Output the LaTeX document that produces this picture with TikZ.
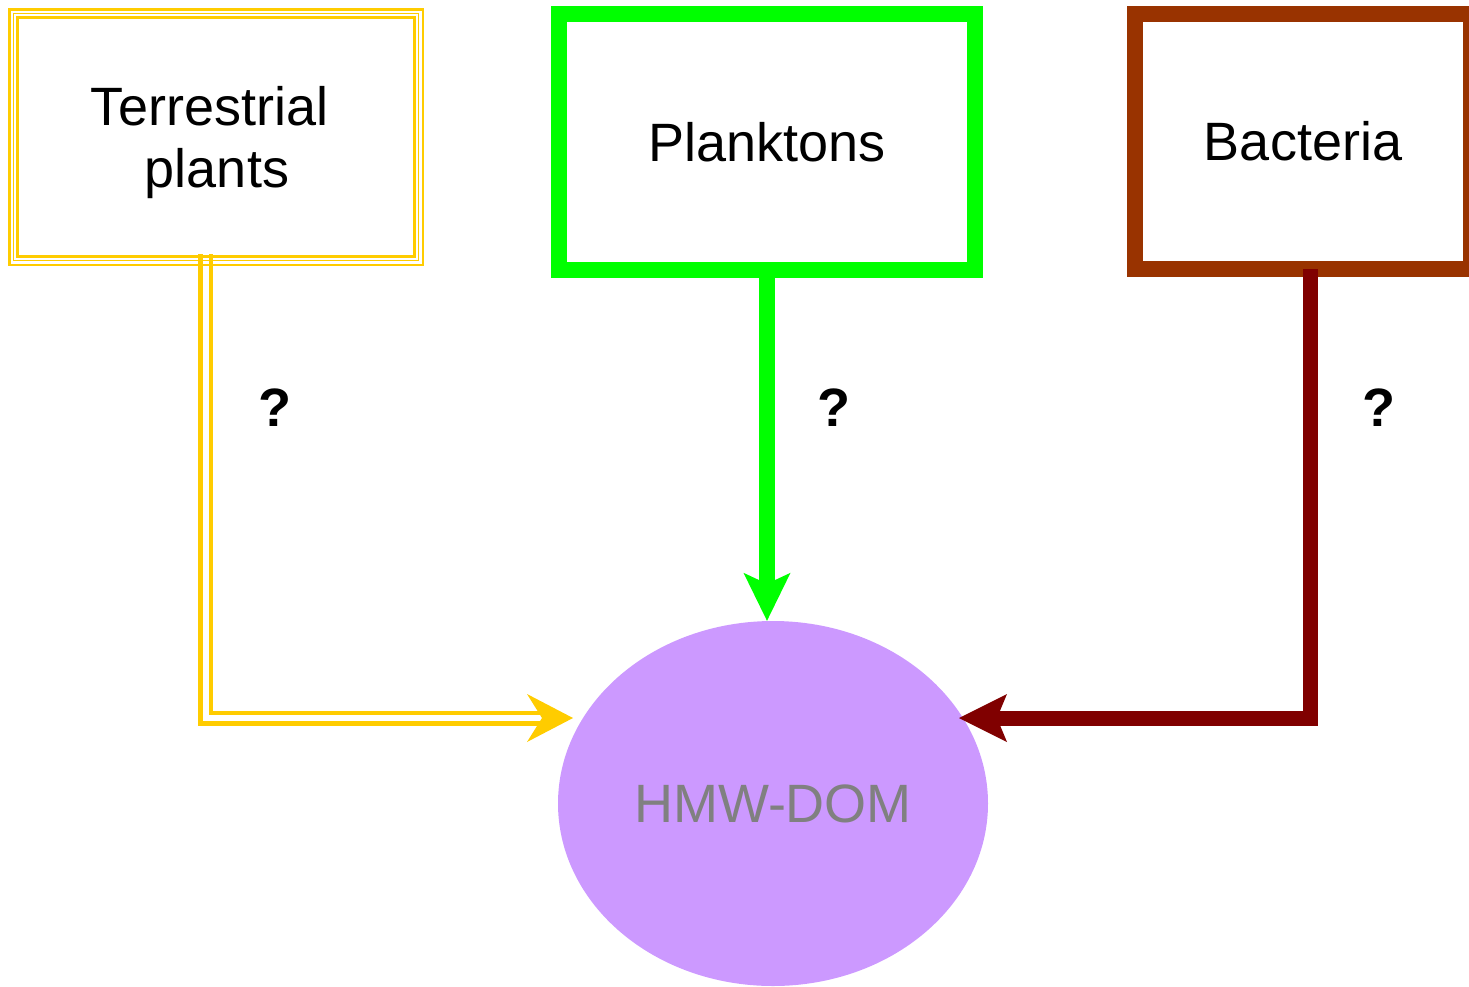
\documentclass[tikz,border=0pt]{standalone}
\usepackage{fontspec}
\setmainfont{Liberation Sans}
\usetikzlibrary{arrows.meta,shapes.geometric}
\definecolor{ylw}{HTML}{FFCC00}
\definecolor{grn}{HTML}{00FF00}
\definecolor{brn}{HTML}{993300}
\definecolor{dred}{HTML}{800000}
\definecolor{lilac}{HTML}{CC99FF}
\definecolor{dgray}{HTML}{808080}
\pgfdeclarelayer{back}
\pgfsetlayers{back,main}
\begin{document}
\begin{tikzpicture}[x=1pt,y=-1pt,
  big/.style={font=\fontsize{54}{62}\selectfont},
  srcbox/.style={draw, line width=16pt, outer sep=0pt, inner sep=0pt, big, fill=white},
  qmark/.style={font=\fontsize{54}{62}\selectfont\bfseries, inner sep=0pt},
  bigtip/.style={-{Stealth[#1,line width=0pt]}}
]
\useasboundingbox (0,0) rectangle (1469,986);

% HMW-DOM
\node[ellipse, fill=lilac, minimum width=430pt, minimum height=365pt, inner sep=0pt,
      big, text=dgray] (hmw) at (773,803.5) {HMW-DOM};

% Terrestrial plants (triple border)
\node[draw=ylw, line width=2.7pt, outer sep=0pt, inner sep=0pt,
      minimum width=413.5pt, minimum height=255.5pt] (terr) at (216.25,137.25) {};
\draw[ylw, line width=1pt] ([shift={(4.2,4.2)}]terr.north west) rectangle ([shift={(-4.2,-4.2)}]terr.south east);
\draw[ylw, line width=2.7pt] ([shift={(8.3,8.3)}]terr.north west) rectangle ([shift={(-8.3,-8.3)}]terr.south east);
\node[big, align=center, inner sep=0pt] (terrlbl) at (217,143) {Terrestrial\kern15pt\\plants};

% Planktons
\node[srcbox, draw=grn, minimum width=416pt, minimum height=256pt] (plk) at (767,142) {Planktons};

% Bacteria
\node[srcbox, draw=brn, minimum width=336pt, minimum height=255pt] (bact) at (1303,141.5) {Bacteria};

% connector end points
\coordinate (yn) at (545,718);
\coordinate (yt) at (573,718);
\coordinate (bt) at (959,718);

% yellow double connector (behind the box borders)
\begin{pgfonlayer}{back}
\draw[ylw, line width=4.5pt, double=white, double distance=6pt]
  ([shift={(-10.75,-11)}]terr.south) |- (yn);
\end{pgfonlayer}
\draw[ylw, bigtip={length=46pt,width=48pt,inset=15pt}] (yn) -- (yt);

% green connector
\draw[grn, line width=16pt, bigtip={length=48pt,width=47pt,inset=11pt}]
  (plk.south) -- (plk.south |- hmw.north);

% brown connector
\draw[dred, line width=15pt, bigtip={length=48pt,width=48pt,inset=10pt}]
  ([xshift=7.5pt]bact.south) |- (bt);

% question marks
\node[qmark] (q1) at (275,408) {?};
\node[qmark] (q2) at (834,408) {?};
\node[qmark] (q3) at (1379,408) {?};
\end{tikzpicture}
\end{document}
